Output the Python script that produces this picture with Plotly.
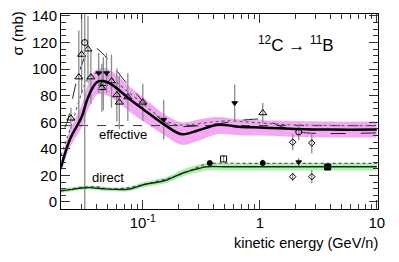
import plotly.graph_objects as go
import math

# ---- model curves ----
eff_E = [0.020, 0.0238, 0.030, 0.0332, 0.0367, 0.041, 0.046, 0.055, 0.077, 0.1, 0.154, 0.215, 0.3, 0.43, 0.7, 1, 2, 4, 10]
eff_mid = [26, 47, 64, 76, 85, 90.5, 91, 88, 77.5, 70, 58, 51, 54, 58, 56.5, 56, 55, 54.5, 54.5]
eff_hi = [30, 54, 73, 86, 96, 100, 101, 98, 87, 79, 66, 60, 62, 64, 62, 61.5, 61, 60.5, 60.5]
eff_lo = [22, 41, 56, 67, 75, 81, 81, 78, 68, 61, 50, 43, 46, 51, 50, 50, 49, 48.5, 48.5]

effdot_E = [0.020, 0.025, 0.030, 0.034, 0.040, 0.050, 0.070, 0.1, 0.15, 0.2, 0.3, 0.5, 1, 2, 10]
effdot_v = [35, 60, 82, 93, 97, 95, 85, 74, 62, 58, 59, 61, 59.5, 58, 57.5]

effdash_E = [0.0216, 0.0229, 0.0278, 0.034, 0.039, 0.077, 0.154, 0.2, 0.4, 0.8, 1.1, 1.4, 1.9, 2.5, 10]
effdash_v = [56, 62, 94, 113, 116, 87, 60, 57, 58.5, 62, 62, 58, 54, 52, 52]

ref_E = [0.02, 10]
ref_v = [57.5, 57.5]

dir_E = [0.02, 0.025, 0.03, 0.035, 0.045, 0.055, 0.077, 0.1, 0.16, 0.22, 0.31, 0.35, 0.5, 1, 10]
dir_mid = [8.3, 9.5, 10.5, 10.8, 10, 9.5, 9.8, 12.8, 16.5, 21.8, 25.5, 26.5, 26.5, 26.5, 26.5]
dir_hi = [9.8, 11, 12, 12.3, 11.5, 11, 11.5, 14.8, 18.8, 24.5, 28.3, 29.3, 29.3, 29.3, 29.3]
dir_lo = [6.8, 8, 9, 9.3, 8.5, 8, 8.1, 10.8, 14.2, 19.1, 22.7, 23.7, 23.7, 23.7, 23.7]

dirdot_E = [0.02, 0.03, 0.04, 0.05, 0.07, 0.1, 0.2, 0.3, 0.35, 1, 10]
dirdot_v = [8.5, 11, 11.5, 10, 10.5, 13, 20, 26.5, 28.5, 29, 29]

# ---- measurements ----
tri_E = [0.0243, 0.0284, 0.030, 0.034, 0.036, 0.0447, 0.046, 0.054, 0.060, 0.063, 0.0745, 0.1, 1.06]
tri_v = [63, 94, 111, 115, 94, 86, 89, 91, 80.5, 75, 79, 75, 67]
tri_err = [8, 35, 30, 25, 20, 18, 20, 20, 20, 20, 18, 14, 7.5]

circ_E = [0.0319, 2.15]
circ_v = [120, 52.7]
circ_err = [130, 6.3]

ftri_E = [0.042, 0.049, 0.151, 0.61]
ftri_v = [97, 97, 62, 74.5]
ftri_err = [15, 15, 15, 14]

dia_E = [1.91, 2.78]
dia_v = [45, 44.4]
dia_err = [6, 8]

# direct
dcirc_E = [0.374, 1.06]
dcirc_v = [29.3, 29.3]
dcirc_err = [2, 2.5]
dsq_E = [0.49]
dsq_v = [32.4]
dsq_err = [2.5]
dftri_E = [2.15]
dftri_v = [30]
dftri_err = [3]
dfsq_E = [3.8]
dfsq_v = [26.3]
dfsq_err = [2.5]
ddia_E = [1.91, 2.78]
ddia_v = [19, 19]
ddia_err = [3, 5]

x_tickvals = [0.1, 1, 10]
x_ticktext = ["10<sup>-1</sup>", "1", "10"]
y_tickvals = [0, 20, 40, 60, 80, 100, 120, 140]

PINK = "#f4a8f4"
GREEN = "#aef0ae"
ERR = "#8a8a8a"

fig = go.Figure()

def band(E, lo, hi, color):
    fig.add_trace(go.Scatter(x=E, y=hi, mode="lines", line=dict(width=0, shape="spline"),
                             hoverinfo="skip", showlegend=False))
    fig.add_trace(go.Scatter(x=E, y=lo, mode="lines", line=dict(width=0, shape="spline"),
                             fill="tonexty", fillcolor=color, hoverinfo="skip", showlegend=False))

band(eff_E, eff_lo, eff_hi, PINK)
band(dir_E, dir_lo, dir_hi, GREEN)

fig.add_trace(go.Scatter(x=ref_E, y=ref_v, mode="lines", line=dict(color="#333", width=1, dash="dash"), showlegend=False))
fig.add_trace(go.Scatter(x=effdash_E, y=effdash_v, mode="lines", line=dict(color="#222", width=1, dash="longdash", shape="spline"), showlegend=False))
fig.add_trace(go.Scatter(x=effdot_E, y=effdot_v, mode="lines", line=dict(color="#666", width=1.2, dash="dot", shape="spline"), showlegend=False))
fig.add_trace(go.Scatter(x=dirdot_E, y=dirdot_v, mode="lines", line=dict(color="#555", width=1.2, dash="dot", shape="spline"), showlegend=False))

def pts(E, v, err, symbol, size, lw=1):
    fig.add_trace(go.Scatter(x=E, y=v, mode="markers",
                             marker=dict(symbol=symbol, size=size, color="black", line=dict(color="black", width=lw)),
                             error_y=dict(type="data", array=err, color=ERR, thickness=1.3, width=0),
                             showlegend=False))

pts(tri_E, tri_v, tri_err, "triangle-up-open", 7)
pts(circ_E, circ_v, circ_err, "circle-open", 6)
pts(ftri_E, ftri_v, ftri_err, "triangle-down", 5)
pts(dia_E, dia_v, dia_err, "diamond-open", 5)
pts(dcirc_E, dcirc_v, dcirc_err, "circle", 5)
pts(dsq_E, dsq_v, dsq_err, "square-open", 6)
pts(dftri_E, dftri_v, dftri_err, "triangle-down", 5)
pts(dfsq_E, dfsq_v, dfsq_err, "square", 6)
pts(ddia_E, ddia_v, ddia_err, "diamond-open", 5)

fig.add_trace(go.Scatter(x=eff_E, y=eff_mid, mode="lines", line=dict(color="black", width=2.5, shape="spline"), showlegend=False))
fig.add_trace(go.Scatter(x=dir_E, y=dir_mid, mode="lines", line=dict(color="#1a2a1a", width=1.4, shape="spline"), showlegend=False))

FONT = "Liberation Sans, Arial, sans-serif"
axis_common = dict(showline=True, linecolor="black", linewidth=1, mirror="allticks",
                   ticks="inside", tickcolor="#333", tickwidth=1, showgrid=False, zeroline=False,
                   ticklabeloverflow="allow", automargin=False,
                   tickfont=dict(family=FONT, size=15, color="black"))

fig.update_xaxes(type="log", range=[math.log10(0.02), 1.01], tickvals=x_tickvals, ticktext=x_ticktext,
                 ticklen=9,
                 minor=dict(ticks="inside", ticklen=5, tickcolor="#333",
                            tickvals=[0.03, 0.04, 0.05, 0.06, 0.07, 0.08, 0.09,
                                      0.2, 0.3, 0.4, 0.5, 0.6, 0.7, 0.8, 0.9,
                                      2, 3, 4, 5, 6, 7, 8, 9]),
                 **axis_common)
fig.update_yaxes(range=[-5.3, 141.5], tickvals=y_tickvals, ticklen=9,
                 minor=dict(ticks="inside", ticklen=5, tickcolor="#333", dtick=5, tick0=0),
                 **axis_common)

fig.add_annotation(xref="paper", yref="paper", x=0.742, y=0.846, xanchor="center", yanchor="middle", showarrow=False,
                   text="<sup>12</sup>C → <sup>11</sup>B", font=dict(family=FONT, size=17, color="black"))
fig.add_annotation(xref="paper", yref="paper", x=0.112, y=0.38, xanchor="left", yanchor="middle", showarrow=False,
                   text="effective", font=dict(family=FONT, size=13, color="black"))
fig.add_annotation(xref="paper", yref="paper", x=0.093, y=0.159, xanchor="left", yanchor="middle", showarrow=False,
                   text="direct", font=dict(family=FONT, size=13, color="black"))
fig.add_annotation(xref="paper", yref="paper", x=1.006, y=-0.174, xanchor="right", yanchor="middle", showarrow=False,
                   text="kinetic energy (GeV/n)", font=dict(family=FONT, size=14.5, color="black"))
fig.add_annotation(xref="paper", yref="paper", x=-0.136, y=0.90, xanchor="center", yanchor="middle", showarrow=False,
                   textangle=-90, text="σ (mb)", font=dict(family=FONT, size=15, color="black"))

# page body has an 8px margin, so the figure is drawn 8px smaller and offset
fig.update_layout(width=391, height=254, margin=dict(l=53, r=21, t=6, b=53),
                  plot_bgcolor="white", paper_bgcolor="white", showlegend=False)

fig.write_html("out.html")
